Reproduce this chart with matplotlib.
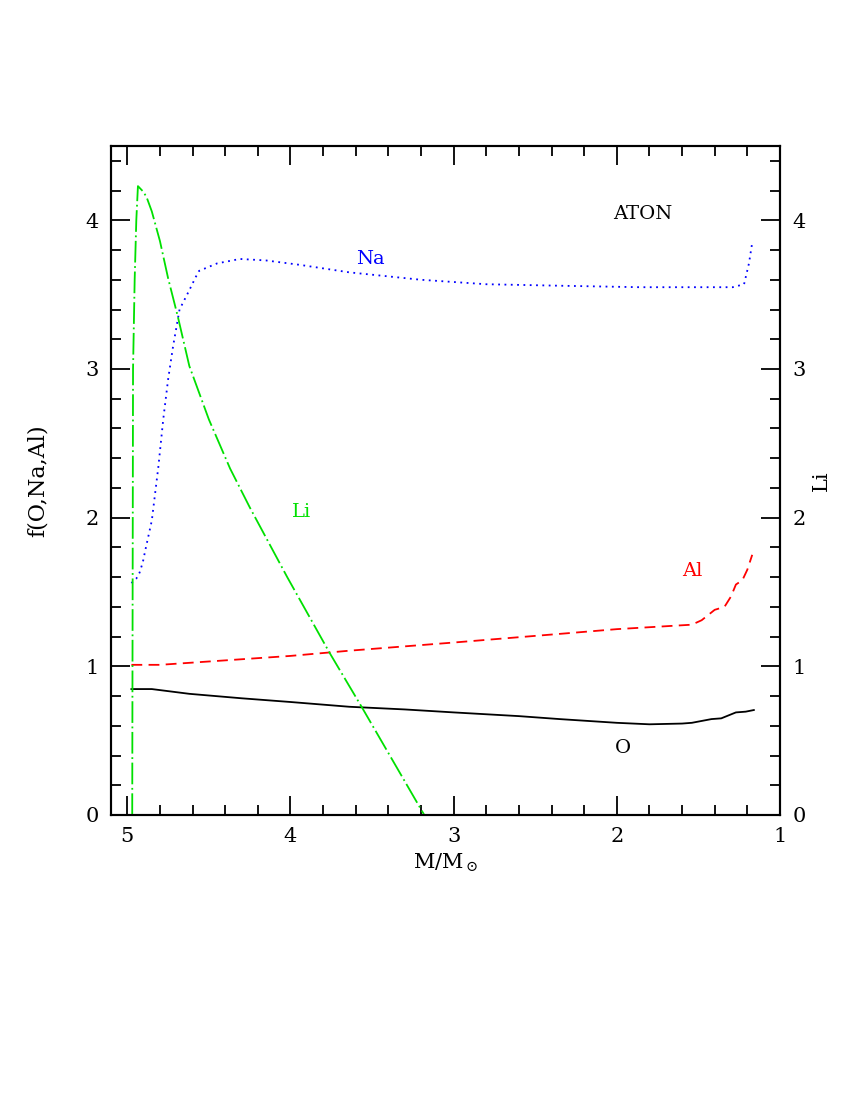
import matplotlib
matplotlib.use("Agg")
import matplotlib.pyplot as plt
from matplotlib.ticker import MultipleLocator

plt.rcParams["font.family"] = ["DejaVu Serif"]
plt.rcParams["mathtext.fontset"] = "dejavuserif"

# O abundance factor
o_mass = [4.975, 4.85, 4.62, 4.3, 4.0, 3.64, 3.3, 3.0, 2.6, 2.35, 2.0, 1.8, 1.6, 1.54, 1.42, 1.36, 1.27, 1.21, 1.16]
o_val = [0.847, 0.847, 0.815, 0.785, 0.76, 0.728, 0.71, 0.69, 0.665, 0.645, 0.62, 0.61, 0.615, 0.62, 0.645, 0.65, 0.69, 0.695, 0.706]

# Na abundance factor
na_mass = [4.975, 4.945, 4.925, 4.905, 4.89, 4.85, 4.81, 4.78, 4.75, 4.72, 4.68, 4.62, 4.58, 4.56,
           4.45, 4.31, 4.15, 3.94, 3.64, 3.2, 2.8, 2.35, 1.86, 1.5, 1.29, 1.22, 1.19, 1.17]
na_val = [1.56, 1.59, 1.63, 1.70, 1.78, 1.98, 2.34, 2.66, 2.93, 3.15, 3.40, 3.53, 3.62, 3.66,
          3.71, 3.74, 3.73, 3.70, 3.65, 3.60, 3.57, 3.56, 3.55, 3.55, 3.55, 3.57, 3.71, 3.85]

# Al abundance factor
al_mass = [4.975, 4.8, 4.4, 4.0, 3.64, 3.0, 2.33, 2.0, 1.54, 1.48, 1.40, 1.34, 1.30, 1.27, 1.23, 1.20, 1.17]
al_val = [1.01, 1.01, 1.04, 1.07, 1.105, 1.16, 1.22, 1.25, 1.28, 1.31, 1.38, 1.40, 1.47, 1.55, 1.58, 1.65, 1.75]

# Li (right axis)
li_mass = [4.97, 4.965, 4.955, 4.945, 4.935, 4.90, 4.88, 4.85, 4.80, 4.75, 4.69, 4.62, 4.50, 4.37, 4.25, 4.02, 3.76, 3.56, 3.18]
li_val = [0.0, 3.0, 3.6, 4.0, 4.23, 4.19, 4.15, 4.06, 3.86, 3.61, 3.35, 3.02, 2.66, 2.33, 2.07, 1.60, 1.09, 0.72, 0.0]

fig = plt.figure(figsize=(8.5, 11), dpi=100)
ax = fig.add_axes([0.1306, 0.2591, 0.787, 0.6082])
ax2 = ax.twinx()

ax.plot(o_mass, o_val, color="black", lw=1.3, ls="-")
ax.plot(na_mass, na_val, color="#0000ff", lw=1.3, ls=(0, (1, 2.5)))
ax.plot(al_mass, al_val, color="#ff0000", lw=1.3, ls=(0, (6, 3.5)))
ax2.plot(li_mass, li_val, color="#00e000", lw=1.3, ls=(0, (12, 2, 1, 2)))

for a in (ax, ax2):
    a.set_xlim(5.1, 1.0)
    a.set_ylim(0, 4.5)
    a.xaxis.set_major_locator(MultipleLocator(1))
    a.xaxis.set_minor_locator(MultipleLocator(0.2))
    a.yaxis.set_major_locator(MultipleLocator(1))
    a.yaxis.set_minor_locator(MultipleLocator(0.2))
    for s in a.spines.values():
        s.set_linewidth(1.5)

ax.tick_params(which="both", direction="in", top=True, right=False, labelsize=15, width=1.3)
ax.tick_params(which="major", length=14, pad=9)
ax.tick_params(which="minor", length=7)
ax2.tick_params(which="both", direction="in", top=True, left=False, right=True, labelsize=15, width=1.3)
ax2.tick_params(which="major", length=14, pad=9)
ax2.tick_params(which="minor", length=7)

ax.set_xlabel(r"M/M$_\odot$", fontsize=15, labelpad=4)
ax.set_ylabel("f(O,Na,Al)", fontsize=16, labelpad=26)
ax2.set_ylabel("Li", fontsize=15, labelpad=4)

ax.text(1.84, 4.04, "ATON", color="black", fontsize=14, ha="center", va="center")
ax.text(3.51, 3.74, "Na", color="#0000ff", fontsize=14, ha="center", va="center")
ax.text(3.93, 2.04, "Li", color="#00e000", fontsize=14, ha="center", va="center")
ax.text(1.54, 1.64, "Al", color="#ff0000", fontsize=14, ha="center", va="center")
ax.text(1.96, 0.45, "O", color="black", fontsize=14, ha="center", va="center")

fig.savefig("out.png", dpi=100)
